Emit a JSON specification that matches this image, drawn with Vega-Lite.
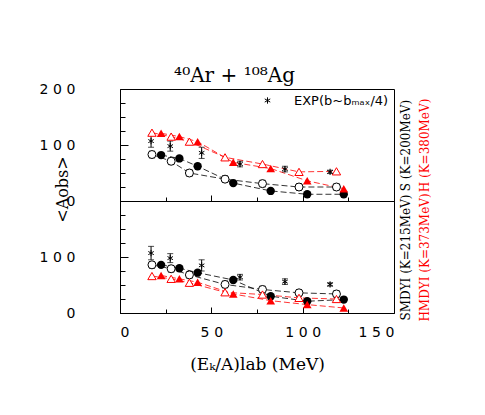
{
  "$schema": "https://vega.github.io/schema/vega-lite/v6.json",
  "background": "white",
  "padding": {"left": 38, "top": 65, "right": 5, "bottom": 5},
  "title": {"text": "⁴⁰Ar + ¹⁰⁸Ag", "font": "DejaVu Serif", "fontSize": 20, "fontWeight": "normal", "anchor": "middle", "offset": -4, "color": "black"},
  "datasets": {
    "top": [
      {"series": "exp", "x": 17, "y": 107, "lo": 96, "hi": 118},
      {"series": "exp", "x": 27.5, "y": 98, "lo": 89, "hi": 107},
      {"series": "exp", "x": 44.7, "y": 86, "lo": 76, "hi": 96},
      {"series": "exp", "x": 65.7, "y": 66, "lo": 61, "hi": 71},
      {"series": "exp", "x": 90.3, "y": 57, "lo": 52, "hi": 62},
      {"series": "exp", "x": 115, "y": 52, "lo": 49, "hi": 55},
      {"series": "oc", "x": 17.5, "y": 83, "lo": 77, "hi": 89},
      {"series": "oc", "x": 28, "y": 71, "lo": 65, "hi": 77},
      {"series": "oc", "x": 38, "y": 50, "lo": 44, "hi": 56},
      {"series": "oc", "x": 57.5, "y": 39, "lo": 33, "hi": 45},
      {"series": "oc", "x": 78, "y": 31, "lo": 25, "hi": 37},
      {"series": "oc", "x": 98, "y": 25, "lo": 19, "hi": 31},
      {"series": "oc", "x": 118.5, "y": 25, "lo": 19, "hi": 31},
      {"series": "fc", "x": 22.5, "y": 82},
      {"series": "fc", "x": 32.5, "y": 76},
      {"series": "fc", "x": 42.5, "y": 62},
      {"series": "fc", "x": 62, "y": 32},
      {"series": "fc", "x": 82.5, "y": 18},
      {"series": "fc", "x": 102.5, "y": 12},
      {"series": "fc", "x": 122.5, "y": 12},
      {"series": "ot", "x": 17.5, "y": 122},
      {"series": "ot", "x": 28, "y": 115},
      {"series": "ot", "x": 38, "y": 106},
      {"series": "ot", "x": 57.5, "y": 78},
      {"series": "ot", "x": 78, "y": 66},
      {"series": "ot", "x": 98, "y": 52},
      {"series": "ot", "x": 118.5, "y": 53},
      {"series": "ft", "x": 22.5, "y": 121},
      {"series": "ft", "x": 32.5, "y": 115},
      {"series": "ft", "x": 42.5, "y": 106},
      {"series": "ft", "x": 62, "y": 69},
      {"series": "ft", "x": 82.5, "y": 58},
      {"series": "ft", "x": 102.5, "y": 36},
      {"series": "ft", "x": 122.5, "y": 22}
    ],
    "bottom": [
      {"series": "exp", "x": 17, "y": 107, "lo": 95, "hi": 119},
      {"series": "exp", "x": 27.5, "y": 98, "lo": 90, "hi": 106},
      {"series": "exp", "x": 44.7, "y": 85, "lo": 75, "hi": 95},
      {"series": "exp", "x": 65.7, "y": 64, "lo": 59, "hi": 69},
      {"series": "exp", "x": 90.3, "y": 56, "lo": 51, "hi": 61},
      {"series": "exp", "x": 115, "y": 51, "lo": 48, "hi": 54},
      {"series": "oc", "x": 17.5, "y": 86, "lo": 80, "hi": 92},
      {"series": "oc", "x": 28, "y": 79, "lo": 73, "hi": 85},
      {"series": "oc", "x": 38, "y": 68, "lo": 62, "hi": 74},
      {"series": "oc", "x": 57.5, "y": 51, "lo": 45, "hi": 57},
      {"series": "oc", "x": 78, "y": 42, "lo": 36, "hi": 48},
      {"series": "oc", "x": 98, "y": 36, "lo": 30, "hi": 42},
      {"series": "oc", "x": 118.5, "y": 34, "lo": 28, "hi": 40},
      {"series": "fc", "x": 22.5, "y": 86},
      {"series": "fc", "x": 32.5, "y": 80},
      {"series": "fc", "x": 42.5, "y": 72},
      {"series": "fc", "x": 62, "y": 59},
      {"series": "fc", "x": 82.5, "y": 30},
      {"series": "fc", "x": 102.5, "y": 21},
      {"series": "fc", "x": 122.5, "y": 24},
      {"series": "ot", "x": 17.5, "y": 66},
      {"series": "ot", "x": 28, "y": 61},
      {"series": "ot", "x": 38, "y": 54},
      {"series": "ot", "x": 57.5, "y": 37},
      {"series": "ot", "x": 78, "y": 33},
      {"series": "ot", "x": 98, "y": 27},
      {"series": "ot", "x": 118.5, "y": 25},
      {"series": "ft", "x": 22.5, "y": 67},
      {"series": "ft", "x": 32.5, "y": 61},
      {"series": "ft", "x": 42.5, "y": 55},
      {"series": "ft", "x": 62, "y": 34},
      {"series": "ft", "x": 82.5, "y": 22},
      {"series": "ft", "x": 102.5, "y": 15},
      {"series": "ft", "x": 122.5, "y": 9}
    ]
  },
  "spacing": 0,
  "bounds": "flush",
  "vconcat": [
    {
      "width": 274,
      "height": 112,
      "data": {"name": "top"},
      "resolve": {"scale": {"y": "independent"}, "axis": {"y": "independent"}},
      "encoding": {
        "x": {"field": "x", "type": "quantitative", "scale": {"domain": [0, 150], "nice": false},
          "axis": {"values": [0, 25, 50, 75, 100, 125, 150], "labels": false, "title": null, "tickSize": {"condition": {"test": "datum.value % 50 == 0", "value": -6}, "value": -4}}}
      },
      "layer": [
        {
          "transform": [{"filter": "datum.series != 'exp'"}],
          "mark": {"type": "line", "strokeDash": [6, 3], "strokeWidth": 0.8},
          "encoding": {
            "y": {"field": "y", "type": "quantitative", "scale": {"domain": [0, 200], "nice": false},
              "axis": {"values": [0, 100, 200], "labelExpr": "datum.value == 200 ? '2\u20040\u20040' : datum.value == 100 ? '1\u20040\u20040' : '\u2007\u2004\u2007\u20040'", "ticks": false, "tickSize": 0, "labelPadding": 45, "labelAlign": "right", "title": null}},
            "detail": {"field": "series"},
            "color": {"field": "series", "type": "nominal", "scale": {"domain": ["oc", "fc", "ot", "ft"], "range": ["black", "black", "red", "red"]}, "legend": null}
          }
        },
        {
          "transform": [{"filter": "datum.series == 'exp' || datum.series == 'oc'"}],
          "mark": {"type": "errorbar", "ticks": true, "size": 6, "thickness": 1, "color": "black"},
          "encoding": {"y": {"field": "lo", "type": "quantitative", "scale": {"domain": [0, 200], "nice": false}, "axis": null}, "y2": {"field": "hi"}}
        },
        {
          "transform": [{"filter": "datum.series == 'oc'"}],
          "mark": {"type": "point", "shape": "circle", "filled": true, "fill": "white", "stroke": "black", "strokeWidth": 1, "size": 64, "opacity": 1},
          "encoding": {"y": {"field": "y", "type": "quantitative", "scale": {"domain": [0, 200], "nice": false},
            "axis": {"orient": "right", "labels": false, "ticks": false, "domain": false, "title": "S (K=200MeV)", "titleColor": "black", "titleFont": "DejaVu Serif", "titleFontSize": 12, "titleFontWeight": "normal", "titleAngle": 270, "titleBaseline": "top", "titleAlign": "center", "titlePadding": 6}}}
        },
        {
          "transform": [{"filter": "datum.series == 'fc'"}],
          "mark": {"type": "point", "shape": "circle", "filled": true, "fill": "black", "size": 70, "opacity": 1},
          "encoding": {"y": {"field": "y", "type": "quantitative", "scale": {"domain": [0, 200], "nice": false},
            "axis": {"orient": "right", "offset": 19, "labels": false, "ticks": false, "domain": false, "title": "H (K=380MeV)", "titleColor": "red", "titleFont": "DejaVu Serif", "titleFontSize": 12, "titleFontWeight": "normal", "titleAngle": 270, "titleBaseline": "top", "titleAlign": "center", "titlePadding": 6}}}
        },
        {
          "transform": [{"filter": "datum.series == 'ot'"}],
          "mark": {"type": "point", "shape": "triangle-up", "filled": true, "fill": "white", "stroke": "red", "strokeWidth": 1, "size": 70, "opacity": 1},
          "encoding": {"y": {"field": "y", "type": "quantitative", "scale": {"domain": [0, 200], "nice": false},
            "axis": {"orient": "left", "values": [0, 25, 50, 75, 100, 125, 150, 175, 200], "labels": false, "domain": false, "tickSize": {"condition": {"test": "datum.value % 100 == 0", "value": -8}, "value": -5}, "title": "<Aobs>", "titleFontSize": 16, "titleX": -58, "titleY": 100, "titleAngle": 270, "titleBaseline": "middle", "titleAlign": "center"}}}
        },
        {
          "transform": [{"filter": "datum.series == 'ft'"}],
          "mark": {"type": "point", "shape": "triangle-up", "filled": true, "fill": "red", "size": 75, "opacity": 1},
          "encoding": {"y": {"field": "y", "type": "quantitative", "scale": {"domain": [0, 200], "nice": false}, "axis": null}}
        },
        {
          "transform": [{"filter": "datum.series == 'exp'"}],
          "mark": {"type": "point", "filled": false, "stroke": "black", "strokeWidth": 1, "size": 40, "opacity": 1},
          "encoding": {
            "y": {"field": "y", "type": "quantitative", "scale": {"domain": [0, 200], "nice": false}, "axis": null},
            "shape": {"field": "series", "type": "nominal", "scale": {"domain": ["exp"], "range": ["M0,-1L0,1M-0.87,-0.5L0.87,0.5M-0.87,0.5L0.87,-0.5"]},
              "legend": {"orient": "top-right", "title": null, "labelExpr": "'EXP(b~bₘₐₓ/4)'", "labelFont": "DejaVu Sans", "labelFontSize": 13, "labelColor": "black", "symbolStrokeColor": "black", "symbolFillColor": "transparent", "symbolStrokeWidth": 1, "symbolSize": 40, "labelOffset": 20, "offset": 5, "padding": 0}}
          }
        }
      ]
    },
    {
      "width": 274,
      "height": 112,
      "data": {"name": "bottom"},
      "resolve": {"scale": {"y": "independent"}, "axis": {"y": "independent"}},
      "encoding": {
        "x": {"field": "x", "type": "quantitative", "scale": {"domain": [0, 150], "nice": false},
          "axis": {"values": [0, 25, 50, 75, 100, 125, 150], "labelExpr": "datum.value == 150 ? '1\u20045\u20040' : datum.value == 100 ? '1\u20040\u20040' : datum.value == 50 ? '5\u20040' : datum.value == 0 ? '0' : ''", "tickSize": {"condition": {"test": "datum.value % 50 == 0", "value": -6}, "value": -4}, "labelPadding": 18, "title": "(Eₖ/A)lab  (MeV)", "titleFontSize": 17, "titlePadding": 17}}
      },
      "layer": [
        {
          "transform": [{"filter": "datum.series != 'exp'"}],
          "mark": {"type": "line", "strokeDash": [6, 3], "strokeWidth": 0.8},
          "encoding": {
            "y": {"field": "y", "type": "quantitative", "scale": {"domain": [0, 200], "nice": false},
              "axis": {"values": [0, 100], "labelExpr": "datum.value == 100 ? '1\u20040\u20040' : '\u2007\u2004\u2007\u20040'", "ticks": false, "tickSize": 0, "labelPadding": 45, "labelAlign": "right", "title": null}},
            "detail": {"field": "series"},
            "color": {"field": "series", "type": "nominal", "scale": {"domain": ["oc", "fc", "ot", "ft"], "range": ["black", "black", "red", "red"]}, "legend": null}
          }
        },
        {
          "transform": [{"filter": "datum.series == 'exp' || datum.series == 'oc'"}],
          "mark": {"type": "errorbar", "ticks": true, "size": 6, "thickness": 1, "color": "black"},
          "encoding": {"y": {"field": "lo", "type": "quantitative", "scale": {"domain": [0, 200], "nice": false}, "axis": null}, "y2": {"field": "hi"}}
        },
        {
          "transform": [{"filter": "datum.series == 'oc'"}],
          "mark": {"type": "point", "shape": "circle", "filled": true, "fill": "white", "stroke": "black", "strokeWidth": 1, "size": 64, "opacity": 1},
          "encoding": {"y": {"field": "y", "type": "quantitative", "scale": {"domain": [0, 200], "nice": false},
            "axis": {"orient": "right", "labels": false, "ticks": false, "domain": false, "title": "SMDYI (K=215MeV)", "titleColor": "black", "titleFont": "DejaVu Serif", "titleFontSize": 12, "titleFontWeight": "normal", "titleAngle": 270, "titleBaseline": "top", "titleAlign": "center", "titlePadding": 6}}}
        },
        {
          "transform": [{"filter": "datum.series == 'fc'"}],
          "mark": {"type": "point", "shape": "circle", "filled": true, "fill": "black", "size": 70, "opacity": 1},
          "encoding": {"y": {"field": "y", "type": "quantitative", "scale": {"domain": [0, 200], "nice": false},
            "axis": {"orient": "right", "offset": 19, "labels": false, "ticks": false, "domain": false, "title": "HMDYI (K=373MeV)", "titleColor": "red", "titleFont": "DejaVu Serif", "titleFontSize": 12, "titleFontWeight": "normal", "titleAngle": 270, "titleBaseline": "top", "titleAlign": "center", "titlePadding": 6}}}
        },
        {
          "transform": [{"filter": "datum.series == 'ot'"}],
          "mark": {"type": "point", "shape": "triangle-up", "filled": true, "fill": "white", "stroke": "red", "strokeWidth": 1, "size": 70, "opacity": 1},
          "encoding": {"y": {"field": "y", "type": "quantitative", "scale": {"domain": [0, 200], "nice": false},
            "axis": {"orient": "left", "values": [0, 25, 50, 75, 100, 125, 150, 175, 200], "labels": false, "domain": false, "title": null, "tickSize": {"condition": {"test": "datum.value % 100 == 0", "value": -8}, "value": -5}}}}
        },
        {
          "transform": [{"filter": "datum.series == 'ft'"}],
          "mark": {"type": "point", "shape": "triangle-up", "filled": true, "fill": "red", "size": 75, "opacity": 1},
          "encoding": {"y": {"field": "y", "type": "quantitative", "scale": {"domain": [0, 200], "nice": false}, "axis": null}}
        },
        {
          "transform": [{"filter": "datum.series == 'exp'"}],
          "mark": {"type": "point", "shape": "M0,-1L0,1M-0.87,-0.5L0.87,0.5M-0.87,0.5L0.87,-0.5", "filled": false, "stroke": "black", "strokeWidth": 1, "size": 40, "opacity": 1},
          "encoding": {"y": {"field": "y", "type": "quantitative", "scale": {"domain": [0, 200], "nice": false}, "axis": null}}
        }
      ]
    }
  ],
  "config": {
    "concat": {"spacing": 0},
    "view": {"stroke": "black", "strokeWidth": 1},
    "axis": {"domainColor": "black", "domainWidth": 1, "tickColor": "black", "tickWidth": 1, "labelColor": "black", "titleColor": "black", "grid": false, "labelFont": "DejaVu Sans", "labelFontSize": 14, "titleFont": "DejaVu Serif", "titleFontSize": 14, "titleFontWeight": "normal"},
    "font": "DejaVu Sans"
  }
}
